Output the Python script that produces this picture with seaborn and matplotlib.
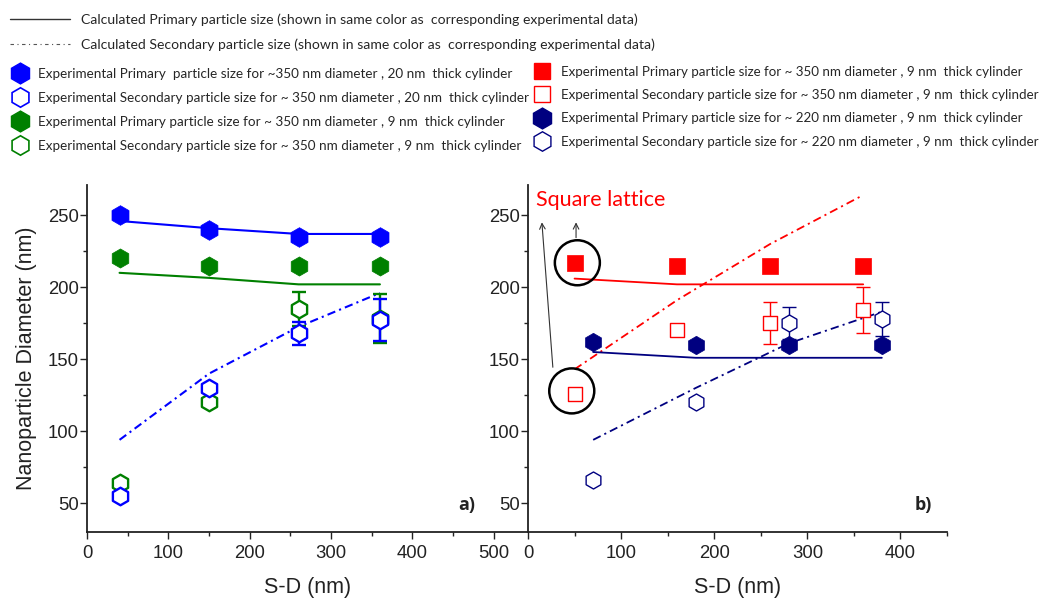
import numpy as np
import pandas as pd
import matplotlib
matplotlib.use("Agg")
import matplotlib.pyplot as plt
import seaborn as sns
from matplotlib.lines import Line2D
from matplotlib.ticker import MultipleLocator

sns.set_style("ticks")
plt.rcParams["font.family"] = ["Liberation Sans", "DejaVu Sans"]
plt.rcParams["lines.scale_dashes"] = False

# ---------------- data: panel a ----------------
a_sd = [40, 150, 260, 360]
a_blue_prim = [250, 240, 235, 235]
a_blue_sec = [55, 130, 168, 177]
a_blue_sec_err = [0, 0, 8, 14.5]
a_green_prim = [220, 215, 215, 215]
a_green_sec = [64, 120, 185, 178]
a_green_sec_err = [0, 0, 12, 17]
a_blue_calc_prim = [246, 241, 237, 237]
a_green_calc_prim = [210, 206.5, 202, 202]
a_blue_calc_sec = [94, 140, 172.5, 196]

# ---------------- data: panel b ----------------
b_red_sd = [50, 160, 260, 360]
b_red_prim = [217, 215, 215, 215]
b_red_sec = [126, 170, 175, 184]
b_red_sec_err = [0, 0, 14.5, 16]
b_red_calc_prim = [206, 202, 202, 202]
b_red_calc_sec = [143, 191, 230, 264]

b_navy_sd = [70, 180, 280, 380]
b_navy_prim = [162, 160, 160, 160]
b_navy_sec = [66, 120, 175, 178]
b_navy_sec_err = [0, 0, 11, 12]
b_navy_calc_prim = [155, 151, 151, 151]
b_navy_calc_sec = [94, 130, 161, 183]

BLUE = "#0000FF"
GREEN = "#008000"
RED = "#FF0000"
NAVY = "#000080"
DASHDOT = (0, (6, 3, 1.5, 3))

W, H = 1041, 598
fig = plt.figure(figsize=(W / 100, H / 100), dpi=100)
axA = fig.add_axes([87 / W, (H - 532) / H, (528 - 87) / W, (532 - 185) / H])
axB = fig.add_axes([528 / W, (H - 532) / H, (947 - 528) / W, (532 - 185) / H])


def style_axis(ax, xmax, xticks):
    ax.set_xlim(0, xmax)
    ax.set_ylim(30, 271)
    ax.set_xticks(xticks)
    ax.xaxis.set_minor_locator(MultipleLocator(50))
    ax.set_yticks([50, 100, 150, 200, 250])
    ax.yaxis.set_minor_locator(MultipleLocator(25))
    for s in ["top", "right"]:
        ax.spines[s].set_visible(False)
    for s in ["left", "bottom"]:
        ax.spines[s].set_linewidth(1.3)
        ax.spines[s].set_color("#222222")
    ax.tick_params(which="major", direction="out", length=5, width=1, labelsize=13.3, colors="#222222")
    ax.tick_params(which="minor", direction="out", length=2.8, width=1, colors="#222222")
    ax.tick_params(axis="y", pad=1)
    ax.tick_params(axis="x", pad=4)
    ax.set_xlabel("S-D (nm)", fontsize=15.5, labelpad=11, color="#222222")
    ax.set_ylabel("")
    ax.set_facecolor("none")


def sec_points(ax, x, y, err, color, marker, s, lw):
    ax.errorbar(x, y, yerr=err, fmt="none", ecolor=color, elinewidth=lw, capsize=5, capthick=lw, zorder=3)
    sns.scatterplot(x=x, y=y, ax=ax, marker=marker, s=s, facecolor="white", edgecolor=color,
                    linewidth=lw, zorder=4, legend=False)


def prim_points(ax, x, y, color, marker, s):
    sns.scatterplot(x=x, y=y, ax=ax, marker=marker, s=s, color=color, edgecolor=color,
                    linewidth=0.5, zorder=5, legend=False)


# ---------------- panel a ----------------
sns.lineplot(x=a_sd, y=a_blue_calc_prim, ax=axA, color=BLUE, lw=1.5, zorder=2)
sns.lineplot(x=a_sd, y=a_green_calc_prim, ax=axA, color=GREEN, lw=1.5, zorder=2)
sns.lineplot(x=a_sd, y=a_blue_calc_sec, ax=axA, color=BLUE, lw=1.5, linestyle=DASHDOT, zorder=2)
sec_points(axA, a_sd, a_green_sec, a_green_sec_err, GREEN, "h", 160, 1.7)
sec_points(axA, a_sd, a_blue_sec, a_blue_sec_err, BLUE, "h", 160, 1.7)
prim_points(axA, a_sd, a_green_prim, GREEN, "h", 190)
prim_points(axA, a_sd, a_blue_prim, BLUE, "h", 200)
style_axis(axA, 542, [0, 100, 200, 300, 400, 500])
axA.set_ylabel("Nanoparticle Diameter (nm)", fontsize=15.5, labelpad=8, color="#222222")
axA.text(0.862, 0.078, "a)", transform=axA.transAxes, ha="center", va="center",
         fontsize=13, fontweight="bold", family="Open Sans", color="#222222")

# ---------------- panel b ----------------
sns.lineplot(x=b_red_sd, y=b_red_calc_prim, ax=axB, color=RED, lw=1.3, zorder=2)
sns.lineplot(x=b_red_sd, y=b_red_calc_sec, ax=axB, color=RED, lw=1.3, linestyle=DASHDOT, zorder=2)
sns.lineplot(x=b_navy_sd, y=b_navy_calc_prim, ax=axB, color=NAVY, lw=1.3, zorder=2)
sns.lineplot(x=b_navy_sd, y=b_navy_calc_sec, ax=axB, color=NAVY, lw=1.3, linestyle=DASHDOT, zorder=2)
sec_points(axB, b_red_sd, b_red_sec, b_red_sec_err, RED, "s", 115, 1.0)
sec_points(axB, b_navy_sd, b_navy_sec, b_navy_sec_err, NAVY, "h", 150, 1.0)
prim_points(axB, b_red_sd, b_red_prim, RED, "s", 125)
prim_points(axB, b_navy_sd, b_navy_prim, NAVY, "h", 175)
style_axis(axB, 450, [0, 100, 200, 300, 400])
axB.text(0.943, 0.078, "b)", transform=axB.transAxes, ha="center", va="center",
         fontsize=13, fontweight="bold", family="Open Sans", color="#222222")

# annotation: circles around the first red points, arrows and label
circ_x = [b_red_sd[0] + 3, b_red_sd[0] - 3]
circ_y = [b_red_prim[0], b_red_sec[0] + 2]
axB.scatter(circ_x, circ_y, s=1050, facecolor="none", edgecolor="black", linewidth=1.8, zorder=6, clip_on=False)
axB.annotate("", xy=(51.6, 247), xytext=(51.6, 232.5),
             arrowprops=dict(arrowstyle="->", color="#333333", lw=0.8))
axB.annotate("", xy=(14.7, 247), xytext=(26.9, 142.5),
             arrowprops=dict(arrowstyle="->", color="#333333", lw=0.8))
axB.text(9, 260.5, "Square lattice", color=RED, fontsize=15.5, family="Lato", ha="left", va="center")

# ---------------- legends ----------------
line_font = {"family": "Lato", "size": 10.1}
left_font = {"family": "Lato", "size": 9.7}
right_font = {"family": "Lato", "size": 9.6}
line_handles = [Line2D([], [], color="#333333", lw=1.0),
                Line2D([], [], color="#555555", lw=0.8, linestyle=(0, (2.5, 2.5, 0.8, 2.5)))]
line_labels = ["Calculated Primary particle size (shown in same color as  corresponding experimental data)",
               "Calculated Secondary particle size (shown in same color as  corresponding experimental data)"]
leg1 = fig.legend(line_handles, line_labels, loc="upper left", bbox_to_anchor=(10 / W, 1 - 13 / H),
                  frameon=False, prop=line_font, handlelength=4.3, handletextpad=0.75,
                  labelspacing=0.9, borderpad=0, borderaxespad=0)

left_handles = [
    Line2D([], [], marker="h", ls="none", color=BLUE, markersize=15),
    Line2D([], [], marker="h", ls="none", color=BLUE, markerfacecolor="white", markersize=14, markeredgewidth=1.2),
    Line2D([], [], marker="h", ls="none", color=GREEN, markersize=15),
    Line2D([], [], marker="h", ls="none", color=GREEN, markerfacecolor="white", markersize=14, markeredgewidth=1.2),
]
left_labels = [
    "Experimental Primary  particle size for ~350 nm diameter , 20 nm  thick cylinder",
    "Experimental Secondary particle size for ~ 350 nm diameter , 20 nm  thick cylinder",
    "Experimental Primary particle size for ~ 350 nm diameter , 9 nm  thick cylinder",
    "Experimental Secondary particle size for ~ 350 nm diameter , 9 nm  thick cylinder",
]
leg2 = fig.legend(left_handles, left_labels, loc="upper left", bbox_to_anchor=(12 / W, 1 - 67.5 / H),
                  frameon=False, prop=left_font, handlelength=1.2, handletextpad=0.72,
                  labelspacing=0.9, borderpad=0, borderaxespad=0)

right_handles = [
    Line2D([], [], marker="s", ls="none", color=RED, markersize=11),
    Line2D([], [], marker="s", ls="none", color=RED, markerfacecolor="white", markersize=11, markeredgewidth=1.0),
    Line2D([], [], marker="h", ls="none", color=NAVY, markersize=15),
    Line2D([], [], marker="h", ls="none", color=NAVY, markerfacecolor="white", markersize=14, markeredgewidth=1.0),
]
right_labels = [
    "Experimental Primary particle size for ~ 350 nm diameter , 9 nm  thick cylinder",
    "Experimental Secondary particle size for ~ 350 nm diameter , 9 nm  thick cylinder",
    "Experimental Primary particle size for ~ 220 nm diameter , 9 nm  thick cylinder",
    "Experimental Secondary particle size for ~ 220 nm diameter , 9 nm  thick cylinder",
]
leg3 = fig.legend(right_handles, right_labels, loc="upper left", bbox_to_anchor=(534 / W, 1 - 65.5 / H),
                  frameon=False, prop=right_font, handlelength=1.2, handletextpad=0.85,
                  labelspacing=0.85, borderpad=0, borderaxespad=0)

fig.savefig("out.png", dpi=100)
